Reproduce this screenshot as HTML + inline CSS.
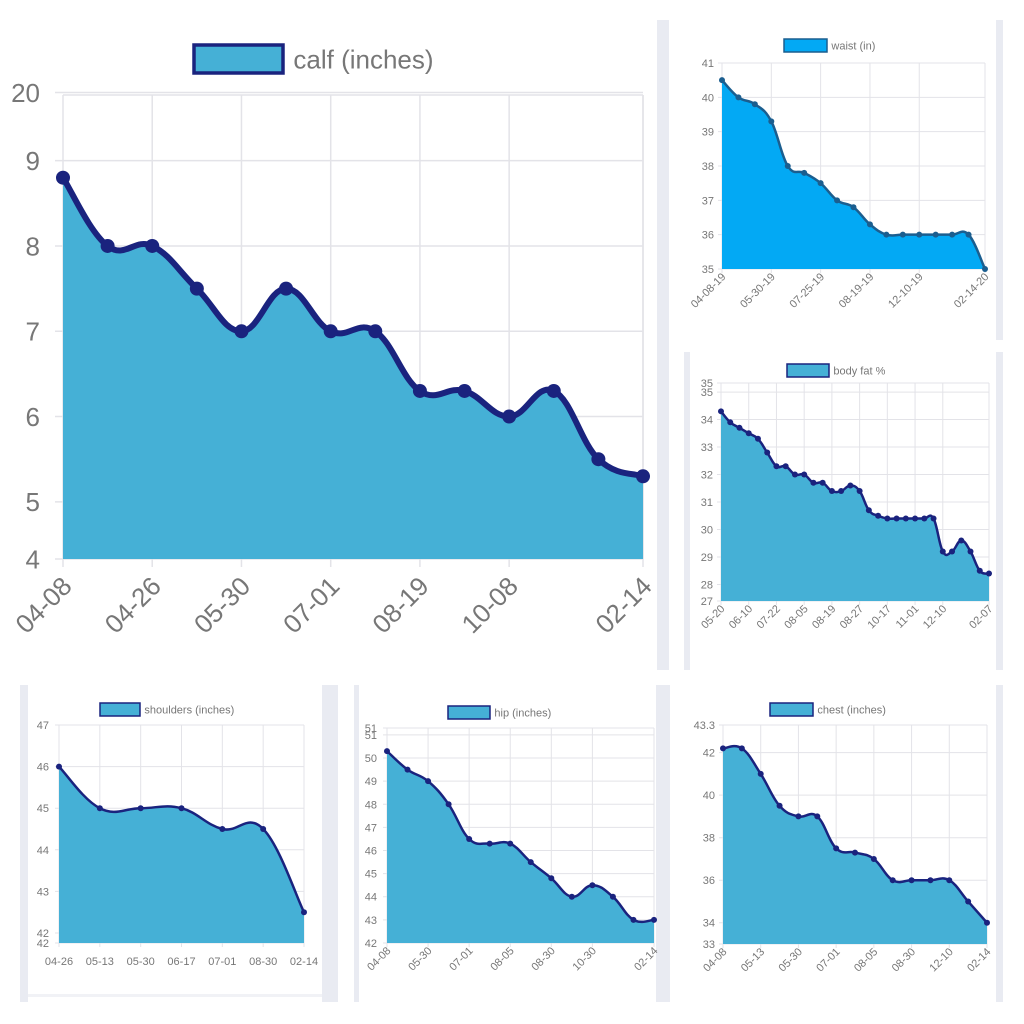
<!DOCTYPE html>
<html><head><meta charset="utf-8"><style>
html,body{margin:0;padding:0;background:#fff;}
svg{display:block;font-family:"Liberation Sans",sans-serif;}
</style></head><body>
<svg id="s" width="1024" height="1024" viewBox="0 0 1024 1024">
<g fill="#e9ebf2">
<rect x="657" y="20" width="12" height="650"/>
<rect x="996" y="20" width="7" height="320"/>
<rect x="684" y="352" width="6" height="318"/>
<rect x="996" y="352" width="7" height="318"/>
<rect x="20" y="685" width="8" height="317"/>
<rect x="322" y="685" width="16" height="317"/>
<rect x="354" y="685" width="5" height="317"/>
<rect x="656" y="685" width="14" height="317"/>
<rect x="996" y="685" width="7" height="317"/>
<rect x="28" y="994" width="294" height="3" fill="#f1f2f6"/>
</g>
</svg>
<script>
// calf chart data
const calfCats=["04-08","04-17","04-26","05-12","05-30","06-15","07-01","07-20","08-19","09-10","10-08","11-20","01-10","02-14"];
const calfVals=[18.8,18,18,17.5,17,17.5,17,17,16.3,16.3,16,16.3,15.5,15.3];
const calfTicks=[19.8,19,18,17,16,15,14.33];
const calfTickLabels=["20","9","8","7","6","5","4"];
const calfXLabelIdx=[0,2,4,6,8,10,13];
// waist
const waistCats=["04-08-19","04-26-19","05-13-19","05-30-19","06-17-19","07-01-19","07-25-19","08-05-19","08-12-19","08-19-19","09-10-19","10-08-19","12-10-19","12-20-19","01-10-20","02-01-20","02-14-20"];
const waistVals=[40.5,40,39.8,39.3,38,37.8,37.5,37,36.8,36.3,36,36,36,36,36,36,35];
const waistTicks=[41,40,39,38,37,36,35];
const waistTickLabels=["41","40","39","38","37","36","35"];
const waistXLabelIdx=[0,3,6,9,12,16];
// body fat
const fatCats=["05-20","05-27","06-03","06-10","06-17","06-24","07-22","07-29","08-01","08-05","08-09","08-14","08-19","08-21","08-24","08-27","09-10","09-25","10-17","10-20","10-25","11-01","11-10","11-20","12-10","12-20","01-05","01-15","01-25","02-07"];
const fatVals=[34.3,33.9,33.7,33.5,33.3,32.8,32.3,32.3,32.0,32.0,31.7,31.7,31.4,31.4,31.6,31.4,30.7,30.5,30.4,30.4,30.4,30.4,30.4,30.4,29.2,29.2,29.6,29.2,28.5,28.4];
const fatTicks=[35.33,35,34,33,32,31,30,29,28,27.4];
const fatTickLabels=["35","35","34","33","32","31","30","29","28","27"];
const fatXLabelIdx=[0,3,6,9,12,15,18,21,24,29];
// shoulders
const shCats=["04-26","05-13","05-30","06-17","07-01","08-30","02-14"];
const shVals=[46,45,45,45,44.5,44.5,42.5];
const shTicks=[47,46,45,44,43,42,41.76];
const shTickLabels=["47","46","45","44","43","42","42"];
const shXLabelIdx=[0,1,2,3,4,5,6];
// hip
const hipCats=["04-08","04-26","05-30","06-17","07-01","07-20","08-05","08-15","08-30","09-20","10-30","11-20","01-10","02-14"];
const hipVals=[50.3,49.5,49,48,46.5,46.3,46.3,45.5,44.8,44,44.5,44,43,43];
const hipTicks=[51.3,51,50,49,48,47,46,45,44,43,42];
const hipTickLabels=["51","51","50","49","48","47","46","45","44","43","42"];
const hipXLabelIdx=[0,2,4,6,8,10,13];
// chest
const chCats=["04-08","04-26","05-13","05-20","05-30","06-17","07-01","07-20","08-05","08-15","08-30","11-01","12-10","01-10","02-14"];
const chVals=[42.2,42.2,41,39.5,39,39,37.5,37.3,37,36,36,36,36,35,34];
const chTicks=[43.3,42,40,38,36,34,33];
const chTickLabels=["43.3","42","40","38","36","34","33"];
const chXLabelIdx=[0,2,4,6,8,10,12,14];

const NS="http://www.w3.org/2000/svg";
const svg=document.getElementById('s');
function mk(tag,attrs,parent){const e=document.createElementNS(NS,tag);for(const k in attrs)e.setAttribute(k,attrs[k]);(parent||svg).appendChild(e);return e;}

function chart(c,cats,vals,ticks,tickLabels,xIdx){
  const g=mk('g',{});
  
  
  const n=cats.length;
  const X=i=>c.x0+(c.x1-c.x0)*i/(n-1);
  const Y=v=>c.yb-(v-c.vmin)/(c.vmax-c.vmin)*(c.yb-c.yt);
  ticks.forEach((t,k)=>{
    const l=mk('line',{x1:c.x0-c.tk,x2:c.x1,y1:Y(t),y2:Y(t),stroke:'#e3e3e8','stroke-width':c.gw},g);
    
    
    const tx=mk('text',{x:c.x0-c.lx,y:Y(t)+c.fs*0.36,'text-anchor':'end','font-size':c.fs,fill:'#777'},g);
    tx.textContent=tickLabels[k];
    
    
  });
  mk('line',{x1:c.x0,x2:c.x1,y1:c.yt,y2:c.yt,stroke:'#e3e3e8','stroke-width':c.gw},g);
  xIdx.forEach(i=>{
    const l=mk('line',{x1:X(i),x2:X(i),y1:c.yt,y2:c.yb+c.tk,stroke:'#e3e3e8','stroke-width':c.gw},g);
    
    
    let tx;
    if(c.rot){
      const px=X(i)+c.fs*0.4, py=c.yb+c.tk+c.fs*(c.dy||0.4);
      tx=mk('text',{x:px,y:py,'text-anchor':'end','font-size':c.fs,fill:'#777',transform:`rotate(-45 ${px} ${py})`},g);
    } else {
      tx=mk('text',{x:X(i),y:c.yb+c.fs*2,'text-anchor':'middle','font-size':c.fs,fill:'#777'},g);
    }
    tx.textContent=cats[i];
    
    
  });
  mk('line',{x1:c.x1,x2:c.x1,y1:c.yt,y2:c.yb,stroke:'#e3e3e8','stroke-width':c.gw},g);
  const P=vals.map((v,i)=>[X(i),Y(v)]);
  let d=`M${P[0][0]},${P[0][1]}`;
  const t=0.4;
  for(let i=0;i<n-1;i++){
    const p0=P[Math.max(0,i-1)],p1=P[i],p2=P[i+1],p3=P[Math.min(n-1,i+2)];
    const c1=[p1[0]+(p2[0]-p0[0])*t/2,p1[1]+(p2[1]-p0[1])*t/2];
    const c2=[p2[0]-(p3[0]-p1[0])*t/2,p2[1]-(p3[1]-p1[1])*t/2];
    d+=` C${c1[0]},${c1[1]} ${c2[0]},${c2[1]} ${p2[0]},${p2[1]}`;
  }
  const area=mk('path',{d:d+` L${c.x1},${c.yb} L${c.x0},${c.yb} Z`,fill:c.fill},g);
  
  
  const line=mk('path',{d:d,fill:'none',stroke:c.stroke,'stroke-width':c.lw,'stroke-linejoin':'round'},g);
  
  
  P.forEach(p=>{
    const dot=mk('circle',{cx:p[0],cy:p[1],r:c.r,fill:c.stroke},g);
    
    
  });
  const lb=mk('rect',{x:c.lgx,y:c.lgy,width:c.lgw,height:c.lgh,fill:c.fill,stroke:c.stroke,'stroke-width':c.lgs},g);
  
  
  const lt=mk('text',{x:c.lgx+c.lgw+c.lgf*0.4,y:c.lgy+c.lgh*0.5+c.lgf*0.36,'font-size':c.lgf,fill:'#777'},g);
  lt.textContent=c.legend;
  
  
}
const blue='#45b0d6', navy='#1a237e';
chart({name:'calf-chart',x0:63,x1:643,yt:95,yb:559,vmin:14.33,vmax:19.77,fill:blue,stroke:navy,lw:6,r:7,fs:26,tk:8,lx:23,gw:1.5,rot:true,dy:0.8,
  lgx:194,lgy:45,lgw:89,lgh:28,lgs:3.5,lgf:26,legend:'calf (inches)'},calfCats,calfVals,calfTicks,calfTickLabels,calfXLabelIdx);
chart({name:'waist-chart',x0:722,x1:985,yt:63,yb:269,vmin:35,vmax:41,fill:'#03a9f4',stroke:'#1b5e8f',lw:2.5,r:3,fs:11,tk:4,lx:8,gw:1,rot:true,
  lgx:784,lgy:39,lgw:43,lgh:13,lgs:1.5,lgf:11,legend:'waist (in)'},waistCats,waistVals,waistTicks,waistTickLabels,waistXLabelIdx);
chart({name:'body-fat-chart',x0:721,x1:989,yt:383,yb:601,vmin:27.4,vmax:35.33,fill:blue,stroke:navy,lw:2.5,r:3,fs:11,tk:4,lx:8,gw:1,rot:true,
  lgx:787,lgy:364,lgw:42,lgh:13,lgs:1.5,lgf:11,legend:'body fat %'},fatCats,fatVals,fatTicks,fatTickLabels,fatXLabelIdx);
chart({name:'shoulders-chart',x0:59,x1:304,yt:725,yb:943,vmin:41.76,vmax:47,fill:blue,stroke:navy,lw:2.5,r:3,fs:11,tk:4,lx:10,gw:1,rot:false,
  lgx:100,lgy:703,lgw:40,lgh:13,lgs:1.5,lgf:11,legend:'shoulders (inches)'},shCats,shVals,shTicks,shTickLabels,shXLabelIdx);
chart({name:'hip-chart',x0:387,x1:654,yt:728,yb:943,vmin:42,vmax:51.3,fill:blue,stroke:navy,lw:2.5,r:3,fs:11,tk:4,lx:10,gw:1,rot:true,
  lgx:448,lgy:706,lgw:42,lgh:13,lgs:1.5,lgf:11,legend:'hip (inches)'},hipCats,hipVals,hipTicks,hipTickLabels,hipXLabelIdx);
chart({name:'chest-chart',x0:723,x1:987,yt:725,yb:944,vmin:33,vmax:43.3,fill:blue,stroke:navy,lw:2.5,r:3,fs:11,tk:4,lx:8,gw:1,rot:true,
  lgx:770,lgy:703,lgw:43,lgh:13,lgs:1.5,lgf:11,legend:'chest (inches)'},chCats,chVals,chTicks,chTickLabels,chXLabelIdx);
</script>
</body></html>
